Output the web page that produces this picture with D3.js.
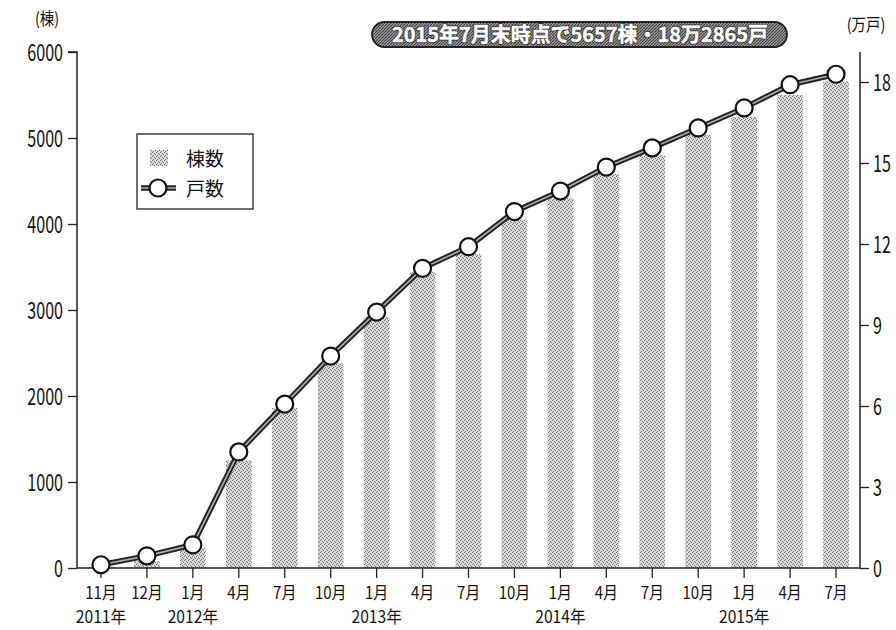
<!DOCTYPE html>
<html><head><meta charset="utf-8">
<script src="https://cdn.jsdelivr.net/npm/d3@7"></script>
<style>
body{margin:0;background:#fff;}
text{font-family:"Noto Sans CJK JP","Noto Sans",sans-serif;fill:#111;}
</style></head>
<body><svg id="c" width="896" height="630"></svg>
<script>
const months = ["11月","12月","1月","4月","7月","10月","1月","4月","7月","10月","1月","4月","7月","10月","1月","4月","7月"];
const years = [{i:0,label:"2011年"},{i:2,label:"2012年"},{i:6,label:"2013年"},{i:10,label:"2014年"},{i:14,label:"2015年"}];
const buildings = [15,80,230,1250,1860,2380,2920,3440,3650,4050,4300,4580,4800,5040,5245,5500,5657];
const units = [0.12,0.45,0.86,4.3,6.07,7.85,9.48,11.1,11.9,13.2,13.96,14.85,15.56,16.3,17.04,17.9,18.2865];
const leftTicks = [0,1000,2000,3000,4000,5000,6000];
const rightTicks = [0,3,6,9,12,15,18];
const title = "2015年7月末時点で5657棟・18万2865戸";

const svg = d3.select("#c");
const L = 77, R = 860, T = 52, B = 568;
const defs = svg.append("defs");
const bp = defs.append("pattern").attr("id","stip").attr("width",4).attr("height",4).attr("patternUnits","userSpaceOnUse");
bp.append("rect").attr("width",4).attr("height",4).attr("fill","#dadada");
[[0,0],[2,1],[1,3],[3,2]].forEach(([a,b])=>bp.append("rect").attr("x",a).attr("y",b).attr("width",1).attr("height",1).attr("fill","#707070"));
const hp = defs.append("pattern").attr("id","hatch").attr("width",3).attr("height",3).attr("patternUnits","userSpaceOnUse");
hp.append("rect").attr("width",3).attr("height",3).attr("fill","#a0a0a0");
hp.append("path").attr("d","M0,3L3,0").attr("stroke","#3a3a3a").attr("stroke-width",1.1);

const x = d3.scaleBand().domain(d3.range(months.length)).range([L+1,R-1]).paddingInner(0.44).paddingOuter(0.22);
const yL = d3.scaleLinear().domain([0,6000]).range([B,T]);
const yR = d3.scaleLinear().domain([0,18]).range([B,82]);
const cx = i => x(i)+x.bandwidth()/2;

// bars
svg.append("g").selectAll("rect").data(buildings).join("rect")
  .attr("x",(d,i)=>x(i)).attr("width",x.bandwidth())
  .attr("y",d=>yL(d)).attr("height",d=>B-yL(d)).attr("fill","url(#stip)");

function condense(sel,s){
  sel.each(function(){
    const t=d3.select(this); const xx=+t.attr("x")||0;
    t.attr("x",0).attr("transform",`translate(${xx},0) scale(${s},1)`);
  });
}
// left axis
const ga = svg.append("g").attr("transform",`translate(${L},0)`)
  .call(d3.axisLeft(yL).tickValues(leftTicks).tickFormat(d3.format("d")).tickSize(9).tickPadding(5));
ga.select(".domain").attr("stroke","#222").attr("stroke-width",1.5).attr("d",`M-9,${T}H0V${B}`);
ga.selectAll(".tick line").attr("stroke","#222").attr("stroke-width",1.3);
ga.selectAll(".tick text").attr("font-size",23).attr("fill","#111").attr("dy","0.36em").call(condense,0.7);

// right axis
const gr = svg.append("g").attr("transform",`translate(${R},0)`)
  .call(d3.axisRight(yR).tickValues(rightTicks).tickSize(9).tickPadding(4));
gr.select(".domain").attr("stroke","#222").attr("stroke-width",1.5).attr("d",`M0,${T}V${B}`);
gr.selectAll(".tick line").attr("stroke","#222").attr("stroke-width",1.3);
gr.selectAll(".tick text").attr("font-size",23).attr("fill","#111").attr("dy","0.36em").call(condense,0.7);

// bottom axis
svg.append("line").attr("x1",L).attr("x2",R).attr("y1",B).attr("y2",B).attr("stroke","#222").attr("stroke-width",1.5);
svg.append("g").selectAll("line").data(months).join("line")
  .attr("x1",(d,i)=>cx(i)).attr("x2",(d,i)=>cx(i)).attr("y1",B).attr("y2",B+10)
  .attr("stroke","#222").attr("stroke-width",1.3);
svg.append("g").selectAll("text").data(months).join("text")
  .attr("x",(d,i)=>cx(i)).attr("y",599).attr("text-anchor","middle").attr("font-size",17).text(d=>d).call(condense,0.88);
svg.append("g").selectAll("text").data(years).join("text")
  .attr("x",d=>cx(d.i)).attr("y",623).attr("text-anchor","middle").attr("font-size",17).text(d=>d.label).call(condense,0.92);

// line
const line = d3.line().x((d,i)=>cx(i)).y(d=>yR(d));
svg.append("path").datum(units).attr("d",line).attr("fill","none").attr("stroke","#222").attr("stroke-width",5.5).attr("stroke-linejoin","round");
svg.append("path").datum(units).attr("d",line).attr("fill","none").attr("stroke","#b0b0b0").attr("stroke-width",1.6);
svg.append("g").selectAll("circle").data(units).join("circle")
  .attr("cx",(d,i)=>cx(i)).attr("cy",d=>yR(d)).attr("r",8.5).attr("fill","#fff").attr("stroke","#111").attr("stroke-width",2.2);

// unit labels
svg.append("text").attr("x",47).attr("y",25).attr("text-anchor","middle").attr("font-size",17).text("(棟)").call(condense,0.85);
svg.append("text").attr("x",866).attr("y",31).attr("text-anchor","middle").attr("font-size",17).text("(万戸)").call(condense,0.85);

// banner
svg.append("rect").attr("x",372).attr("y",22).attr("width",415).attr("height",25).attr("rx",12.5)
  .attr("fill","url(#hatch)").attr("stroke","#222").attr("stroke-width",1.8);
svg.append("text").attr("x",580).attr("y",42).attr("text-anchor","middle").attr("font-size",20).attr("font-weight","bold")
  .attr("textLength",376).attr("lengthAdjust","spacingAndGlyphs")
  .style("fill","#333").attr("stroke","#333").attr("stroke-width",2.2).attr("stroke-linejoin","round").text(title);
svg.append("text").attr("x",580).attr("y",42).attr("text-anchor","middle").attr("font-size",20).attr("font-weight","bold")
  .attr("textLength",376).attr("lengthAdjust","spacingAndGlyphs")
  .style("fill","#fff").attr("stroke","#fff").attr("stroke-width",0.5).text(title);

// legend
const lg = svg.append("g");
lg.append("rect").attr("x",137).attr("y",134).attr("width",116).attr("height",75).attr("fill","#fff").attr("stroke","#222").attr("stroke-width",1.3);
lg.append("rect").attr("x",150).attr("y",150).attr("width",18).attr("height",16).attr("fill","url(#stip)");
lg.append("text").attr("x",186).attr("y",166).attr("font-size",19).text("棟数");
lg.append("line").attr("x1",141).attr("x2",176).attr("y1",188).attr("y2",188).attr("stroke","#222").attr("stroke-width",5.5);
lg.append("line").attr("x1",141).attr("x2",176).attr("y1",188).attr("y2",188).attr("stroke","#b0b0b0").attr("stroke-width",1.6);
lg.append("circle").attr("cx",158).attr("cy",188).attr("r",8.5).attr("fill","#fff").attr("stroke","#111").attr("stroke-width",2.2);
lg.append("text").attr("x",186).attr("y",196).attr("font-size",19).text("戸数");
</script></body></html>
